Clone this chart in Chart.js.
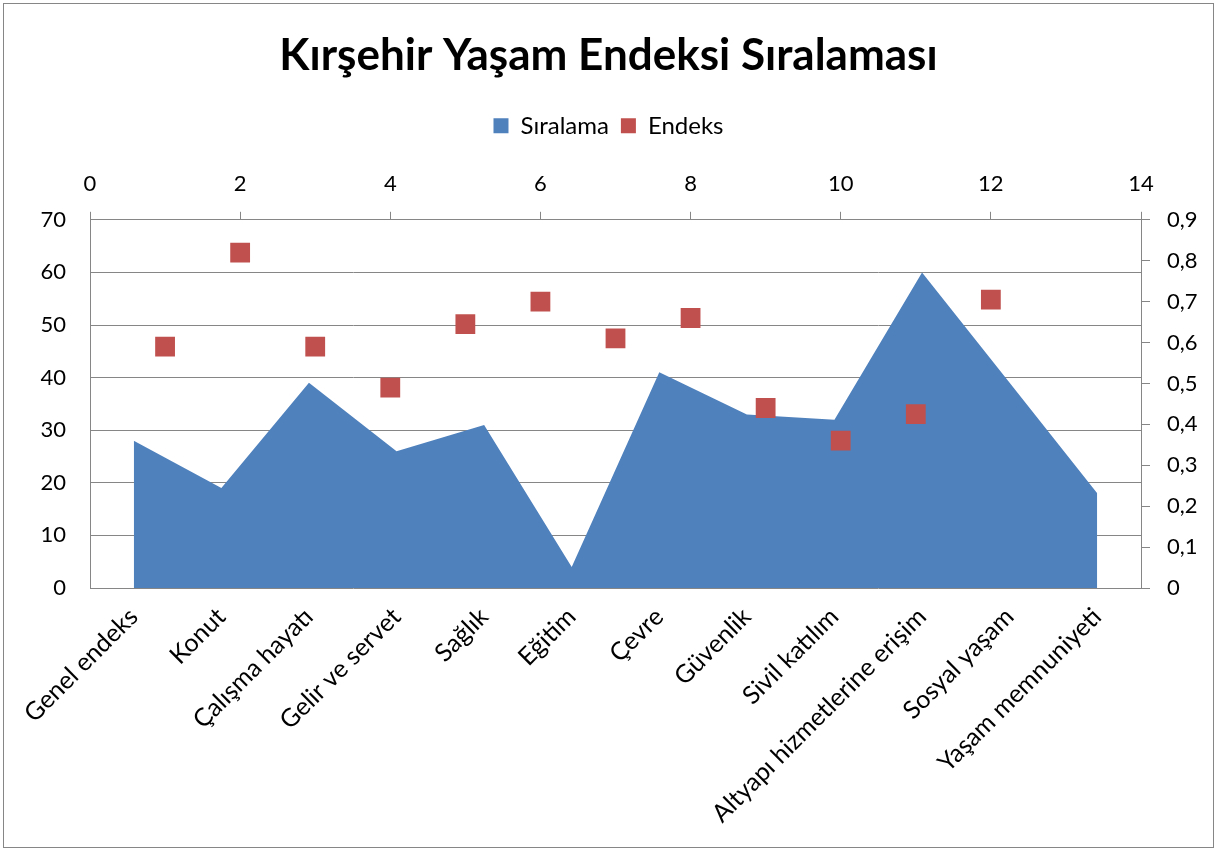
<!DOCTYPE html>
<html>
<head>
<meta charset="utf-8">
<script src="https://cdn.jsdelivr.net/npm/chart.js@4"></script>
<style>
  html, body { margin: 0; padding: 0; background: #fff; }
  #wrap { width: 1217px; height: 851px; }
</style>
</head>
<body>
<div id="wrap"><canvas id="myChart" width="1217" height="851"></canvas></div>
<script>
const categories = ['Genel endeks', 'Konut', 'Çalışma hayatı', 'Gelir ve servet', 'Sağlık', 'Eğitim',
  'Çevre', 'Güvenlik', 'Sivil katılım', 'Altyapı hizmetlerine erişim', 'Sosyal yaşam', 'Yaşam memnuniyeti'];
const siralama = [28, 19, 39, 26, 31, 4, 41, 33, 32, 60, 39, 18];
const endeksX = [1, 2, 3, 4, 5, 6, 7, 8, 9, 10, 11, 12];
const endeks = [0.59, 0.82, 0.59, 0.49, 0.645, 0.70, 0.61, 0.66, 0.44, 0.36, 0.425, 0.705];

const FONT = 'Lato, "Open Sans", sans-serif';
const GRID = '#868686';

const frame = {
  id: 'frame',
  beforeDraw(chart) {
    const c = chart.ctx;
    c.save();
    c.fillStyle = '#fff';
    c.fillRect(0, 0, chart.width, chart.height);
    c.strokeStyle = GRID;
    c.lineWidth = 1;
    c.strokeRect(3.5, 3.5, chart.width - 7, chart.height - 7);
    c.restore();
  }
};

window.onload = () => {
  const data = {
    labels: categories,
    datasets: [{
      type: 'line',
      label: 'Sıralama',
      data: siralama,
      xAxisID: 'x',
      yAxisID: 'y',
      fill: 'origin',
      backgroundColor: '#4F81BD',
      borderColor: '#4F81BD',
      borderWidth: 0,
      pointRadius: 0,
      tension: 0,
      order: 1
    }, {
      type: 'scatter',
      label: 'Endeks',
      data: endeksX.map((x, i) => ({ x: x, y: endeks[i] })),
      xAxisID: 'x2',
      yAxisID: 'y2',
      backgroundColor: '#C0504D',
      borderColor: '#C0504D',
      borderWidth: 0,
      pointStyle: 'rect',
      pointRadius: 14,
      order: 0
    }]
  };

  const config = {
    data: data,
    plugins: [frame],
    options: {
      responsive: false,
      animation: false,
      layout: { padding: { left: 6, right: 6, top: 0, bottom: 8 } },
      plugins: {
        title: {
          display: true,
          text: 'Kırşehir Yaşam Endeksi Sıralaması',
          color: '#000',
          font: { family: FONT, size: 44, weight: 'bold' },
          padding: { top: 29, bottom: 20 }
        },
        legend: {
          display: true,
          labels: {
            color: '#000',
            font: { family: FONT, size: 24 },
            boxWidth: 15,
            boxHeight: 15,
            padding: 12,
            sort: (a, b) => a.datasetIndex - b.datasetIndex
          }
        },
        tooltip: { enabled: false }
      },
      scales: {
        x: {
          type: 'category',
          position: 'bottom',
          offset: true,
          grid: { display: false },
          border: { display: false },
          ticks: {
            color: '#000',
            font: { family: FONT, size: 25 },
            maxRotation: 45,
            minRotation: 45,
            autoSkip: false,
            padding: 6
          },
          afterFit: s => { s.height = 255; }
        },
        x2: {
          type: 'linear',
          position: 'top',
          min: 0,
          max: 14,
          grid: { drawOnChartArea: false, color: GRID, tickLength: 8 },
          border: { color: GRID },
          ticks: {
            stepSize: 2,
            color: '#000',
            font: { family: FONT, size: 22 },
            padding: 15
          },
          afterFit: s => { s.height = 72; }
        },
        y: {
          type: 'linear',
          position: 'left',
          min: 0,
          max: 70,
          grid: { color: GRID, drawTicks: false },
          border: { color: GRID },
          ticks: {
            stepSize: 10,
            color: '#000',
            font: { family: FONT, size: 22 },
            padding: 24
          },
          afterFit: s => { s.width = 84; }
        },
        y2: {
          type: 'linear',
          position: 'right',
          min: 0,
          max: 0.9,
          grid: { drawOnChartArea: false, color: GRID, tickLength: 9 },
          border: { color: GRID },
          ticks: {
            stepSize: 0.1,
            color: '#000',
            font: { family: FONT, size: 22 },
            padding: 17,
            callback: v => v === 0 ? '0' : v.toFixed(1).replace('.', ',')
          },
          afterFit: s => { s.width = 70; }
        }
      }
    }
  };

  new Chart(document.getElementById('myChart'), config);
};
</script>
</body>
</html>
